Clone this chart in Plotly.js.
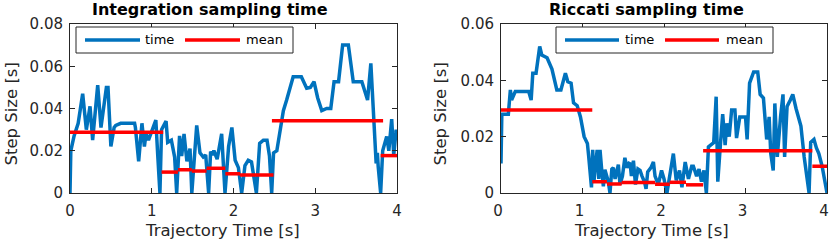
<!DOCTYPE html>
<html>
<head>
<meta charset="utf-8">
<script src="https://cdn.plot.ly/plotly-3.0.1.min.js"></script>
<style>html,body{margin:0;padding:0;background:#fff;}#chart{width:830px;height:241px;}</style>
</head>
<body>
<div id="chart"></div>
<script>
// ---------- data ----------
const titles = ["Integration sampling time", "Riccati sampling time"];
const xTitle = "Trajectory Time [s]";
const yTitle = "Step Size [s]";
const legendLabels = ["time", "mean"];

const xTickVals = [0, 1, 2, 3, 4];
const xTickText = ["0", "1", "2", "3", "4"];
const yTickValsL = [0, 0.02, 0.04, 0.06, 0.08];
const yTickTextL = ["0", "0.02", "0.04", "0.06", "0.08"];
const yTickValsR = [0, 0.02, 0.04, 0.06];
const yTickTextR = ["0", "0.02", "0.04", "0.06"];

// Integration sampling time: time series
const timeL = [0.00,0.01,0.05,0.10,0.155,0.20,0.245,0.277,0.339,0.379,0.445,0.465,0.50,0.54,0.56,0.62,0.79,0.80,0.84,0.88,0.91,0.93,0.96,1.00,1.05,1.073,1.10,1.12,1.175,1.195,1.24,1.28,1.305,1.34,1.366,1.395,1.43,1.468,1.49,1.55,1.59,1.63,1.66,1.696,1.72,1.74,1.76,1.80,1.855,1.896,1.94,1.98,2.02,2.06,2.10,2.14,2.18,2.22,2.24,2.28,2.32,2.365,2.41,2.44,2.467,2.49,2.53,2.57,2.61,2.65,2.69,2.73,2.83,2.895,2.94,2.985,3.03,3.08,3.14,3.19,3.23,3.285,3.335,3.405,3.465,3.57,3.64,3.68,3.745,3.76,3.77,3.80,3.825,3.874,3.90,3.935,3.96,3.99,4.00];
const stepL = [0.000,0.020,0.027,0.033,0.047,0.030,0.041,0.025,0.051,0.031,0.050,0.050,0.022,0.031,0.032,0.033,0.033,0.031,0.015,0.033,0.022,0.028,0.025,0.029,0.0345,0.018,0.000,0.030,0.034,0.024,0.025,0.017,0.000,0.027,0.0175,0.028,0.015,0.021,0.000,0.032,0.019,0.017,0.018,0.000,0.0196,0.018,0.020,0.016,0.028,0.000,0.022,0.031,0.0155,0.012,0.000,0.013,0.0155,0.0147,0.010,0.000,0.0235,0.025,0.025,0.0175,0.000,0.019,0.020,0.030,0.039,0.044,0.049,0.055,0.055,0.0496,0.050,0.0527,0.045,0.039,0.040,0.040,0.0527,0.0527,0.070,0.070,0.0527,0.0527,0.044,0.0614,0.014,0.019,0.0125,0.000,0.020,0.0267,0.020,0.035,0.018,0.030,0.025];
// Integration: mean per segment
const meanStartL = [0.00, 1.12, 1.32, 1.49, 1.67, 1.90, 2.08, 2.47, 3.80];
const meanEndL   = [1.14, 1.32, 1.49, 1.67, 1.90, 2.08, 2.49, 3.83, 4.00];
const meanValL   = [0.0287, 0.0099, 0.0110, 0.0104, 0.0117, 0.0091, 0.0085, 0.0342, 0.0177];

// Riccati sampling time: time series
const timeR = [0.00,0.01,0.09,0.115,0.13,0.175,0.34,0.37,0.39,0.43,0.475,0.50,0.565,0.625,0.685,0.735,0.79,0.82,0.86,0.89,0.935,0.975,1.02,1.06,1.076,1.097,1.11,1.125,1.14,1.16,1.18,1.20,1.215,1.235,1.256,1.275,1.297,1.317,1.337,1.36,1.378,1.40,1.44,1.46,1.49,1.52,1.545,1.57,1.585,1.60,1.625,1.65,1.68,1.706,1.73,1.76,1.78,1.80,1.84,1.87,1.89,1.93,1.97,2.00,2.036,2.07,2.115,2.15,2.19,2.22,2.26,2.30,2.34,2.36,2.40,2.43,2.46,2.49,2.52,2.545,2.61,2.64,2.66,2.69,2.72,2.75,2.77,2.80,2.83,2.87,2.89,2.93,3.00,3.02,3.05,3.10,3.15,3.18,3.22,3.26,3.29,3.31,3.34,3.36,3.39,3.43,3.46,3.48,3.51,3.55,3.58,3.62,3.68,3.72,3.78,3.80,3.84,3.87,3.90,3.94,3.99,4.00];
const stepR = [0.0105,0.028,0.028,0.0366,0.033,0.036,0.036,0.033,0.0425,0.0425,0.052,0.049,0.048,0.044,0.0366,0.0366,0.0425,0.0395,0.039,0.032,0.031,0.027,0.020,0.0176,0.013,0.007,0.002,0.0153,0.004,0.010,0.0153,0.005,0.0153,0.0085,0.0024,0.0083,0.0059,0.004,0.000,0.0085,0.009,0.005,0.0101,0.003,0.006,0.0125,0.009,0.0105,0.0103,0.006,0.0115,0.003,0.0085,0.008,0.006,0.004,0.0015,0.0075,0.009,0.011,0.006,0.003,0.008,0.005,0.000,0.006,0.014,0.0045,0.008,0.002,0.011,0.005,0.0095,0.0095,0.006,0.0085,0.004,0.008,0.000,0.0164,0.0179,0.0342,0.004,0.0164,0.028,0.017,0.0247,0.020,0.0295,0.0295,0.0195,0.027,0.027,0.019,0.039,0.043,0.043,0.035,0.0337,0.019,0.027,0.014,0.008,0.0318,0.0128,0.027,0.035,0.0128,0.0307,0.033,0.035,0.030,0.0238,0.0128,0.000,0.018,0.019,0.016,0.014,0.0095,0.000,0.000];
// Riccati: mean per segment
const meanStartR = [0.00, 1.12, 1.30, 1.48, 1.89, 2.07, 2.27, 2.48, 3.82];
const meanEndR   = [1.12, 1.30, 1.48, 1.89, 2.07, 2.27, 2.48, 3.82, 4.00];
const meanValR   = [0.0295, 0.0040, 0.0032, 0.0037, 0.0031, 0.0038, 0.0029, 0.0150, 0.0095];

// ---------- helpers ----------
const W = 830, H = 241;
const px = v => v / W;
const py = v => 1 - v / H;
const FONT = "DejaVu Sans, Liberation Sans, Arial, sans-serif";
const AX = "#262626";
const BLUE = "#0072BD";
const RED = "#FF0000";

function segments(starts, ends, vals) {
  const x = [], y = [];
  for (let i = 0; i < starts.length; i++) {
    x.push(starts[i], ends[i], null);
    y.push(vals[i], vals[i], null);
  }
  return {x, y};
}
const mL = segments(meanStartL, meanEndL, meanValL);
const mR = segments(meanStartR, meanEndR, meanValR);

const traces = [
  {x: timeL, y: stepL, xaxis: "x", yaxis: "y", type: "scatter", mode: "lines", name: legendLabels[0],
   line: {color: BLUE, width: 3.5}, showlegend: false},
  {x: mL.x, y: mL.y, xaxis: "x", yaxis: "y", type: "scatter", mode: "lines", name: legendLabels[1],
   line: {color: RED, width: 3.5}, showlegend: false, connectgaps: false},
  {x: timeR, y: stepR, xaxis: "x2", yaxis: "y2", type: "scatter", mode: "lines", name: legendLabels[0],
   line: {color: BLUE, width: 3.5}, showlegend: false},
  {x: mR.x, y: mR.y, xaxis: "x2", yaxis: "y2", type: "scatter", mode: "lines", name: legendLabels[1],
   line: {color: RED, width: 3.5}, showlegend: false, connectgaps: false}
];

function xAxis(domain, anchor, shift) {
  return {domain: domain, anchor: anchor, range: [0, 4], tickvals: xTickVals, ticktext: xTickText,
    ticks: "inside", ticklen: 5, tickwidth: 1, tickcolor: AX, showline: true, linecolor: AX, linewidth: 1,
    mirror: "ticks", showgrid: false, zeroline: false, fixedrange: true,
    ticklabeloverflow: "allow", ticklabelstandoff: 4, ticklabelshift: shift,
    tickfont: {family: FONT, size: 15, color: AX}};
}
function yAxis(domain, anchor, range, vals, text) {
  return {domain: domain, anchor: anchor, range: range, tickvals: vals, ticktext: text,
    ticks: "inside", ticklen: 5, tickwidth: 1, tickcolor: AX, showline: true, linecolor: AX, linewidth: 1,
    mirror: "ticks", showgrid: false, zeroline: false, fixedrange: true,
    ticklabeloverflow: "allow", ticklabelstandoff: 3,
    tickfont: {family: FONT, size: 15, color: AX}};
}

const yDom = [py(193), py(24)];

// Panel geometry (pixels) for the decorations
const panels = [
  {titleX: 209.5, yTitleX: 10.5, xTitleX: 222.5, leg: {x0: 76, x1: 293, y0: 27, y1: 53, l1: [85, 140], t1: 143, l2: [185, 240], t2: 244}},
  {titleX: 646, yTitleX: 439.5, xTitleX: 651, leg: {x0: 556, x1: 773, y0: 27, y1: 53, l1: [565, 619], t1: 623, l2: [665, 719], t2: 724}}
];

const shapes = [], annotations = [];
panels.forEach((p, i) => {
  annotations.push({xref: "paper", yref: "paper", x: px(p.titleX), y: py(9.5), xanchor: "center", yanchor: "middle",
    text: "<b>" + titles[i] + "</b>", showarrow: false, font: {family: FONT, size: 16, color: "#000"}});
  annotations.push({xref: "paper", yref: "paper", x: px(p.yTitleX), y: py(114), xanchor: "center", yanchor: "middle",
    text: yTitle, textangle: -90, showarrow: false, font: {family: FONT, size: 16.5, color: AX}});
  annotations.push({xref: "paper", yref: "paper", x: px(p.xTitleX), y: py(230.5), xanchor: "center", yanchor: "middle",
    text: xTitle, showarrow: false, font: {family: FONT, size: 16.5, color: AX}});
  const L = p.leg;
  shapes.push({type: "rect", xref: "paper", yref: "paper", x0: px(L.x0), x1: px(L.x1), y0: py(L.y1), y1: py(L.y0),
    line: {color: AX, width: 1}, fillcolor: "#fff", layer: "above"});
  shapes.push({type: "line", xref: "paper", yref: "paper", x0: px(L.l1[0]), x1: px(L.l1[1]), y0: py(40), y1: py(40),
    line: {color: BLUE, width: 3.5}, layer: "above"});
  shapes.push({type: "line", xref: "paper", yref: "paper", x0: px(L.l2[0]), x1: px(L.l2[1]), y0: py(40), y1: py(40),
    line: {color: RED, width: 3.5}, layer: "above"});
  annotations.push({xref: "paper", yref: "paper", x: px(L.t1), y: py(40), xanchor: "left", yanchor: "middle",
    text: legendLabels[0], showarrow: false, font: {family: FONT, size: 13, color: "#000"}});
  annotations.push({xref: "paper", yref: "paper", x: px(L.t2), y: py(40), xanchor: "left", yanchor: "middle",
    text: legendLabels[1], showarrow: false, font: {family: FONT, size: 13, color: "#000"}});
});

const layout = {
  width: W, height: H,
  margin: {l: 0, r: 0, t: 0, b: 0, pad: 0},
  paper_bgcolor: "#fff", plot_bgcolor: "#fff",
  showlegend: false,
  xaxis: xAxis([px(70), px(397)], "y", 0),
  yaxis: yAxis(yDom, "x", [0, 0.08], yTickValsL, yTickTextL),
  xaxis2: xAxis([px(501), px(827)], "y2", -3),
  yaxis2: yAxis(yDom, "x2", [0, 0.06], yTickValsR, yTickTextR),
  shapes: shapes,
  annotations: annotations
};

Plotly.newPlot("chart", traces, layout, {staticPlot: true, displayModeBar: false});
</script>
</body>
</html>
